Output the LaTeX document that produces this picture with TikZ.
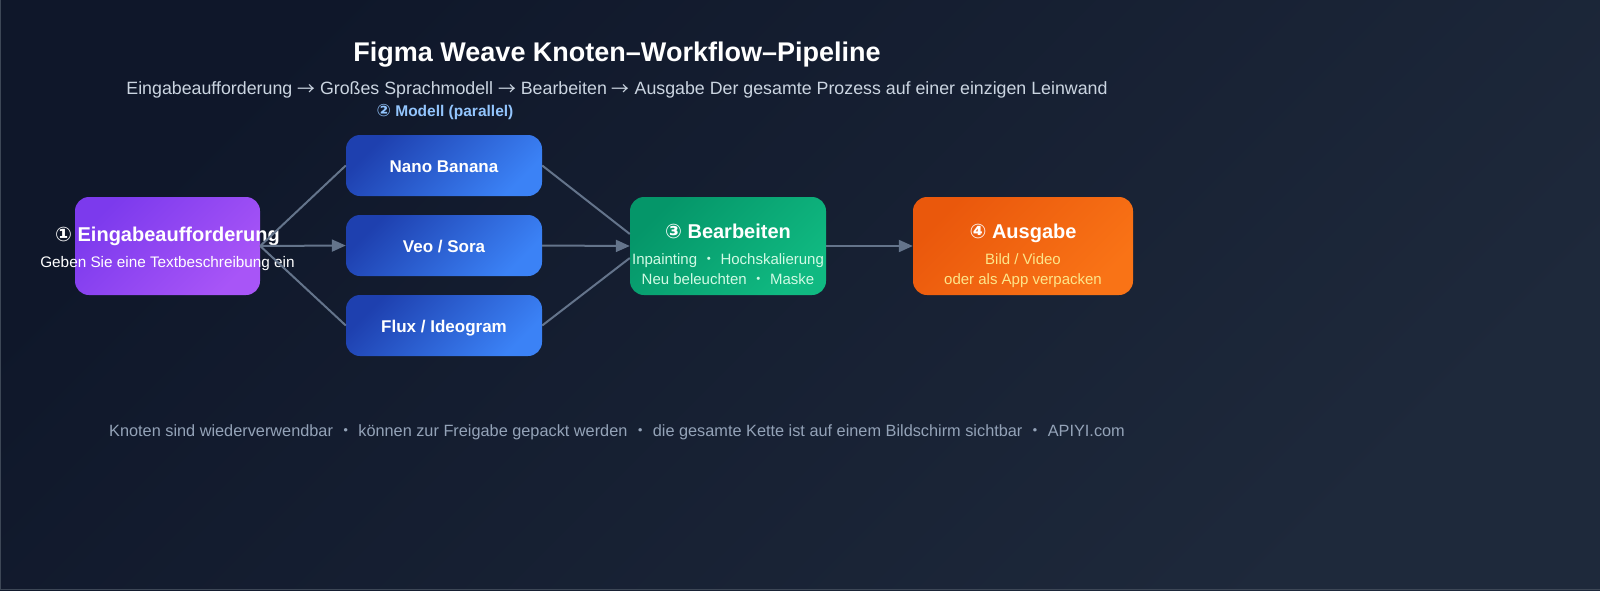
\documentclass[tikz,border=0pt]{standalone}
\usepackage{fontspec}
\setmainfont{Liberation Sans}
\newfontfamily\symfont{DejaVu Sans}
\newfontfamily\cjk{Noto Sans CJK SC}
\usetikzlibrary{arrows.meta}

\definecolor{bgA}{HTML}{0F172A}
\definecolor{bgB}{HTML}{1E293B}
\definecolor{edgeline}{HTML}{64748B}
\definecolor{subtxt}{HTML}{CBD5E1}
\definecolor{foottxt}{HTML}{94A3B8}
\definecolor{modeltxt}{HTML}{93C5FD}
\definecolor{purA}{HTML}{7C3AED}
\definecolor{purB}{HTML}{A855F7}
\definecolor{bluA}{HTML}{1E40AF}
\definecolor{bluB}{HTML}{3B82F6}
\definecolor{grnA}{HTML}{059669}
\definecolor{grnB}{HTML}{10B981}
\definecolor{orgA}{HTML}{EA580C}
\definecolor{orgB}{HTML}{F97316}
\definecolor{mint}{HTML}{D1FAE5}
\definecolor{sand}{HTML}{FDE68A}

\newcommand{\circnum}[1]{{\symfont #1}}
\newcommand{\middot}{ {\cjk ・} }
\newcommand{\flowto}{ \raisebox{-1.8pt}{\cjk →} }

\tikzset{
  stagebox/.style={rounded corners=14pt, inner sep=0pt, minimum height=98pt},
  modelbox/.style={stagebox, minimum width=196pt, minimum height=61pt,
    left color=bluA, right color=bluB, shading angle=45},
  headtxt/.style={anchor=base, text=white, font=\bfseries\fontsize{20}{24}\selectfont, inner sep=0pt},
  smalltxt/.style={anchor=base, font=\fontsize{15}{18}\selectfont, inner sep=0pt},
  flow/.style={edgeline, line width=2pt},
  flowarrow/.style={flow, -{Triangle[length=14pt,width=12pt]}}
}

\begin{document}
\begin{tikzpicture}[x=1pt,y=-1pt]
\useasboundingbox (0,0) rectangle (1600,590);
% background
\shade[left color=bgA, right color=bgB, shading angle=45] (0,0) rectangle (1600,590);
\draw[bgB!80!white!70!bgB, line width=1pt] (0.5,0) -- (0.5,589.5) -- (1600,589.5);

% header
\node[anchor=base, text=white, font=\bfseries\fontsize{27}{32}\selectfont, inner sep=0pt] (title) at (617,61) {Figma Weave Knoten–Workflow–Pipeline};
\node[anchor=base, text=subtxt, font=\fontsize{17.8}{20}\selectfont, inner sep=0pt] (subtitle) at (617,94) {Eingabeaufforderung\flowto Großes Sprachmodell\flowto Bearbeiten\flowto Ausgabe Der gesamte Prozess auf einer einzigen Leinwand};
\node[anchor=base, text=modeltxt, font=\bfseries\fontsize{15.5}{18}\selectfont, inner sep=0pt] (modellabel) at (445,116) {{\fontsize{17}{18}\selectfont\circnum{②}} Modell (parallel)};

% stage 1
\node[stagebox, minimum width=185pt, left color=purA, right color=purB, shading angle=45] (prompt) at (167.5,246) {};
\node[headtxt] (prompthead) at (167.5,241) {\circnum{①} Eingabeaufforderung};
\node[smalltxt, text=white, font=\fontsize{15.3}{18}\selectfont] (promptnote) at (167.5,267) {Geben Sie eine Textbeschreibung ein};

% stage 2 (three models)
\node[modelbox] (nano) at (444,165.5) {};
\node[modelbox] (veo) at (444,245.5) {};
\node[modelbox] (flux) at (444,325.5) {};
\node[anchor=base, text=white, font=\bfseries\fontsize{17}{20}\selectfont, inner sep=0pt] (nanotxt) at (444,172) {Nano Banana};
\node[anchor=base, text=white, font=\bfseries\fontsize{17}{20}\selectfont, inner sep=0pt] (veotxt) at (444,252) {Veo / Sora};
\node[anchor=base, text=white, font=\bfseries\fontsize{17}{20}\selectfont, inner sep=0pt] (fluxtxt) at (444,332) {Flux / Ideogram};

% stage 3
\node[stagebox, minimum width=196pt, left color=grnA, right color=grnB, shading angle=45] (edit) at (728,246) {};
\node[headtxt] (edithead) at (728,238) {\circnum{③} Bearbeiten};
\node[smalltxt, text=mint] (editnote1) at (728,264) {Inpainting\middot Hochskalierung};
\node[smalltxt, text=mint] (editnote2) at (728,284) {Neu beleuchten\middot Maske};

% stage 4
\node[stagebox, minimum width=220pt, left color=orgA, right color=orgB, shading angle=45] (output) at (1023,246) {};
\node[headtxt] (outputhead) at (1023,238) {\circnum{④} Ausgabe};
\node[smalltxt, text=sand] (outputnote1) at (1023,264) {Bild / Video};
\node[smalltxt, text=sand] (outputnote2) at (1023,284) {oder als App verpacken};

% connectors
\draw[flow] (prompt.east) -- (nano.west);
\draw[flowarrow] (prompt.east) -- (veo.west);
\draw[flow] (prompt.east) -- (flux.west);
\draw[flow] (nano.east) -- ([yshift=12pt]edit.west);
\draw[flowarrow] (veo.east) -- (edit.west);
\draw[flow] (flux.east) -- ([yshift=-12pt]edit.west);
\draw[flowarrow] (edit.east) -- (output.west);

% footer
\node[anchor=base, text=foottxt, font=\fontsize{16.3}{19}\selectfont, inner sep=0pt] (footer) at (617,436) {Knoten sind wiederverwendbar\middot können zur Freigabe gepackt werden\middot die gesamte Kette ist auf einem Bildschirm sichtbar\middot APIYI.com};
\end{tikzpicture}
\end{document}
